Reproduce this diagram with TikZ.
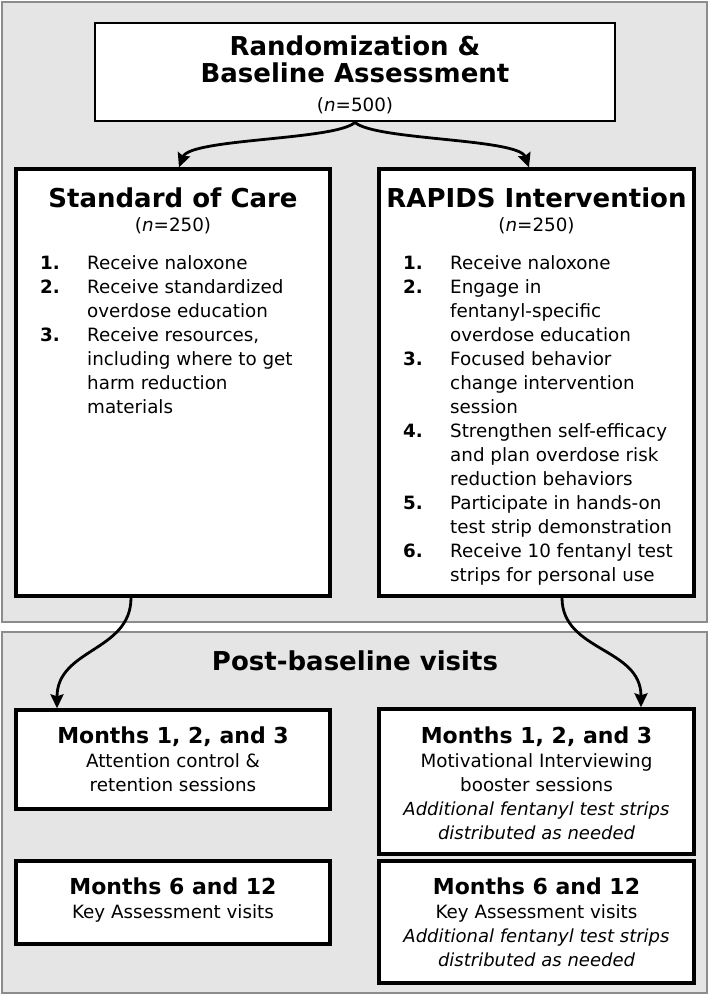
\documentclass[tikz,border=0pt]{standalone}
\usepackage{fontspec}
\setmainfont{DejaVu Sans}
\usetikzlibrary{calc,arrows.meta}
\newcommand{\bodyfont}{\fontsize{18.3bp}{24bp}\selectfont}
\newcommand{\itfont}{\fontsize{18bp}{24bp}\selectfont\itshape}
\newcommand{\ttlfont}{\fontsize{26bp}{32bp}\selectfont\bfseries}
\newcommand{\monfont}{\fontsize{22bp}{28bp}\selectfont\bfseries}
\begin{document}
\begin{tikzpicture}[x=1bp,y=-1bp,
  panel/.style={draw=black!45, fill=black!10, line width=1.4bp},
  box/.style={draw=black, fill=white, line width=3.4bp, inner sep=0pt},
  topbox/.style={draw=black, fill=white, line width=2.8bp, inner sep=0pt},
  txt/.style={anchor=base, inner sep=0pt},
  arr/.style={line width=2.8bp, -{Stealth[length=14bp,width=13bp,inset=2bp]}}]
\useasboundingbox (0,0) rectangle (709,995);
\fill[white] (0,0) rectangle (709,995);
\draw[panel] (2,2) rectangle (707,622);
\draw[panel] (2,632) rectangle (707,993);

% boxes
\node[topbox, minimum width=520bp, minimum height=98bp] (top) at (355,72) {};
\node[box, minimum width=314bp, minimum height=427bp] (soc) at (173,382.5) {};
\node[box, minimum width=315bp, minimum height=427bp] (rap) at (536.5,382.5) {};
\node[box, minimum width=314bp, minimum height=99bp] (l1) at (173,759.5) {};
\node[box, minimum width=314bp, minimum height=83bp] (l2) at (173,902.5) {};
\node[box, minimum width=315bp, minimum height=145bp] (r1) at (536.5,781.5) {};
\node[box, minimum width=315bp, minimum height=122bp] (r2) at (536.5,922) {};

% top box text
\node[txt] (t1) at (355,55) {\ttlfont Randomization \&};
\node[txt] (t2) at (355,82) {\ttlfont Baseline Assessment};
\node[txt] (t3) at (355,111) {\bodyfont (\textit{n}=500)};

% arm titles
\node[txt] (s1) at (173,207) {\ttlfont Standard of Care};
\node[txt] (s2) at (173,231) {\bodyfont (\textit{n}=250)};
\node[txt] (p1) at (536.5,207) {\ttlfont RAPIDS Intervention};
\node[txt] (p2) at (536.5,231) {\bodyfont (\textit{n}=250)};

% lists
\node[txt, anchor=base west] (soclist) at (40,269) {\bodyfont\begin{tabular}[t]{@{}p{47bp}@{}l@{}}
\textbf{1.} & Receive naloxone\\
\textbf{2.} & Receive standardized\\
 & overdose education\\
\textbf{3.} & Receive resources,\\
 & including where to get\\
 & harm reduction\\
 & materials
\end{tabular}};
\node[txt, anchor=base west] (raplist) at (403,269) {\bodyfont\begin{tabular}[t]{@{}p{47bp}@{}l@{}}
\textbf{1.} & Receive naloxone\\
\textbf{2.} & Engage in\\
 & fentanyl-specific\\
 & overdose education\\
\textbf{3.} & Focused behavior\\
 & change intervention\\
 & session\\
\textbf{4.} & Strengthen self-efficacy\\
 & and plan overdose risk\\
 & reduction behaviors\\
\textbf{5.} & Participate in hands-on\\
 & test strip demonstration\\
\textbf{6.} & Receive 10 fentanyl test\\
 & strips for personal use
\end{tabular}};

% post-baseline
\node[txt] (pb) at (355,670) {\ttlfont Post-baseline visits};

\node[txt] (l1a) at (173,743) {\monfont Months 1, 2, and 3};
\node[txt] (l1b) at (173,767) {\bodyfont Attention control \&};
\node[txt] (l1c) at (173,791) {\bodyfont retention sessions};
\node[txt] (l2a) at (173,894) {\monfont Months 6 and 12};
\node[txt] (l2b) at (173,918) {\bodyfont Key Assessment visits};

\node[txt] (r1a) at (536.5,743) {\monfont Months 1, 2, and 3};
\node[txt] (r1b) at (536.5,767) {\bodyfont Motivational Interviewing};
\node[txt] (r1c) at (536.5,791) {\bodyfont booster sessions};
\node[txt] (r1d) at (536.5,815) {\itfont Additional fentanyl test strips};
\node[txt] (r1e) at (536.5,839) {\itfont distributed as needed};
\node[txt] (r2a) at (536.5,894) {\monfont Months 6 and 12};
\node[txt] (r2b) at (536.5,918) {\bodyfont Key Assessment visits};
\node[txt] (r2c) at (536.5,942) {\itfont Additional fentanyl test strips};
\node[txt] (r2d) at (536.5,966) {\itfont distributed as needed};

% connectors
\draw[arr] (top.south) .. controls ($(top.south)+(-20,18)$) and ($(soc.north)+(17,-29)$) .. ($(soc.north)+(6,0)$);
\draw[arr] (top.south) .. controls ($(top.south)+(20,18)$) and ($(rap.north)+(-18,-29)$) .. ($(rap.north)+(-7.5,0)$);
\draw[arr] ($(soc.south)+(-42,0)$) .. controls ($(soc.south)+(-42,54)$) and ($(l1.north)+(-116,-60)$) .. ($(l1.north)+(-116,0)$);
\draw[arr] ($(rap.south)+(25.5,0)$) .. controls ($(rap.south)+(25.5,54)$) and ($(r1.north)+(104.5,-60)$) .. ($(r1.north)+(104.5,0)$);
\end{tikzpicture}
\end{document}
